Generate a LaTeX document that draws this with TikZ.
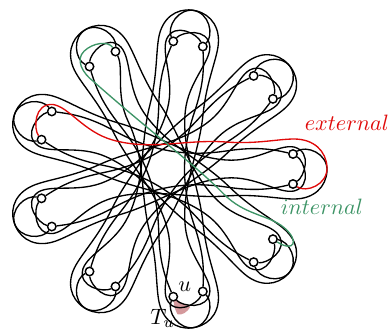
\documentclass[tikz,border=0pt]{standalone}
\usepackage{amsmath}
\usepackage{tikz}
\usetikzlibrary{
  positioning,  % Function "of" (e.g. [above right=of x])
}
\definecolor{extred}{rgb}{0.88,0.04,0.04}
\definecolor{intgreen}{rgb}{0.24,0.58,0.40}
\definecolor{tupink}{rgb}{0.83,0.60,0.61}
\def\mypx{0.45pt}
\def\myrad{127}
\def\myhalf{15}
\tikzset{
  x=\mypx,
  y=\mypx,
  strand/.style={
    line width=0.6pt
  },
  vertex/.style={
    draw,
    circle,
    fill=white,
    inner sep=0pt,
    minimum size=3.8pt,
    line width=0.65pt
  },
  lbl/.style={
    inner sep=0.5pt
  },
  region/.style={
    fill=tupink,
    draw=none
  }
}
% #2 start vertex (petal at angle #4), #3 end vertex (petal at angle #5)
\newcommand{\wrapstrand}[5][]{%
  \draw[strand,#1] (#2) .. controls ([rotate=#4]140,-24) and ([rotate=#4]162,-16) .. ([rotate=#4]161,2)
    .. controls ([rotate=#4]160,18) and ([rotate=#4]148,30) .. ([rotate=#4]128,30)
    .. controls ([rotate=#4]112,30) and ([rotate=#4]90,24.75) .. ([rotate=#4]60,27)
    .. controls ([rotate=#4]20,30) and ([rotate=#5]20,-12) .. ([rotate=#5]60,-9)
    .. controls ([rotate=#5]90,-6.75) and ([rotate=#5]112,-25) .. ([rotate=#5]128,-22)
    .. controls ([rotate=#5]147,-17) and ([rotate=#5]138,8) .. (#3);}
\newcommand{\crossstrand}[5][]{%
  \draw[strand,#1] (#2) .. controls ([rotate=#4]138,-8) and ([rotate=#4]147,17) .. ([rotate=#4]128,22)
    .. controls ([rotate=#4]112,25) and ([rotate=#4]90,6.75) .. ([rotate=#4]60,9)
    .. controls ([rotate=#4]20,12) and ([rotate=#5]20,-30) .. ([rotate=#5]60,-27)
    .. controls ([rotate=#5]90,-24.75) and ([rotate=#5]112,-30) .. ([rotate=#5]128,-30)
    .. controls ([rotate=#5]148,-30) and ([rotate=#5]160,-18) .. ([rotate=#5]161,-2)
    .. controls ([rotate=#5]162,16) and ([rotate=#5]140,24) .. (#3);}
\newcommand{\directstrand}[5][]{%
  \draw[strand,#1] (#2) .. controls ([rotate=#4]105,20) and ([rotate=#4]90,22.5) .. ([rotate=#4]60,18)
    .. controls ([rotate=#4]20,12) and ([rotate=#5]20,-12) .. ([rotate=#5]60,-18)
    .. controls ([rotate=#5]90,-22.5) and ([rotate=#5]105,-20) .. (#3);}
\begin{document}
\begin{tikzpicture}
\useasboundingbox (-166,-164) rectangle (224,169);
% the region T_u
\fill[region] ([rotate=280]127,-15) .. controls ([rotate=280]133,-11) and ([rotate=280]137,-5) .. ([rotate=280]140,0)
  .. controls ([rotate=280]145,-4) and ([rotate=280]147,-10) .. ([rotate=280]145,-14)
  .. controls ([rotate=280]139,-16) and ([rotate=280]132,-16) .. cycle;
% vertices, two on each petal
\foreach \i [evaluate=\i as \t using 40*\i] in {0,...,8}{
  \node[vertex] (a\i) at ([rotate=\t]\myrad,\myhalf) {};
  \node[vertex] (b\i) at ([rotate=\t]\myrad,-\myhalf) {};
}
% strands from petal i to petal i+4
\foreach \i [evaluate=\i as \t using 40*\i,
             evaluate=\i as \s using 40*\i+160,
             evaluate=\i as \j using {int(mod(\i+4,9))}] in {0,...,8}{
  \ifnum\i=0 \else \wrapstrand{b\i}{a\j}{\t}{\s}\fi
  \ifnum\i=3 \else \crossstrand{b\i}{a\j}{\t}{\s}\fi
  \ifnum\i=8 \else \directstrand{a\i}{b\j}{\t}{\s}\fi
}
\draw[strand] (b3) .. controls ([rotate=120]108,-14) and ([rotate=120]90,6.75) .. ([rotate=120]60,9)
  .. controls ([rotate=120]20,12) and ([rotate=280]20,-30) .. ([rotate=280]60,-27)
  .. controls ([rotate=280]90,-24.75) and ([rotate=280]112,-30) .. ([rotate=280]128,-30)
  .. controls ([rotate=280]148,-30) and ([rotate=280]160,-18) .. ([rotate=280]161,-2)
  .. controls ([rotate=280]162,16) and ([rotate=280]140,24) .. (a7);
\wrapstrand[extred]{b0}{a4}{0}{160}
\draw[strand,intgreen] (a8) .. controls ([rotate=320]152,18) and ([rotate=320]149,31) .. ([rotate=320]128,31)
  .. controls ([rotate=320]108,31) and ([rotate=320]90,15) .. ([rotate=320]60,18)
  .. controls ([rotate=320]20,22) and ([rotate=120]40,-5) .. ([rotate=120]112,19)
  .. controls ([rotate=120]125,24.5) and ([rotate=120]140,24) .. ([rotate=120]143,12)
  .. controls ([rotate=120]146,0) and ([rotate=120]140,-14) .. (b3);
% labels
\node[lbl,extred] (extlbl) at (181,46) {$external$};
\node[lbl,intgreen] (intlbl) at (156,-38) {$internal$};
\node[lbl,above right=0pt of b7] (ulbl) {$u$};
\node[lbl,below left=3.2pt and -3pt of b7] (tlbl) {$T_u$};
\end{tikzpicture}
\end{document}
